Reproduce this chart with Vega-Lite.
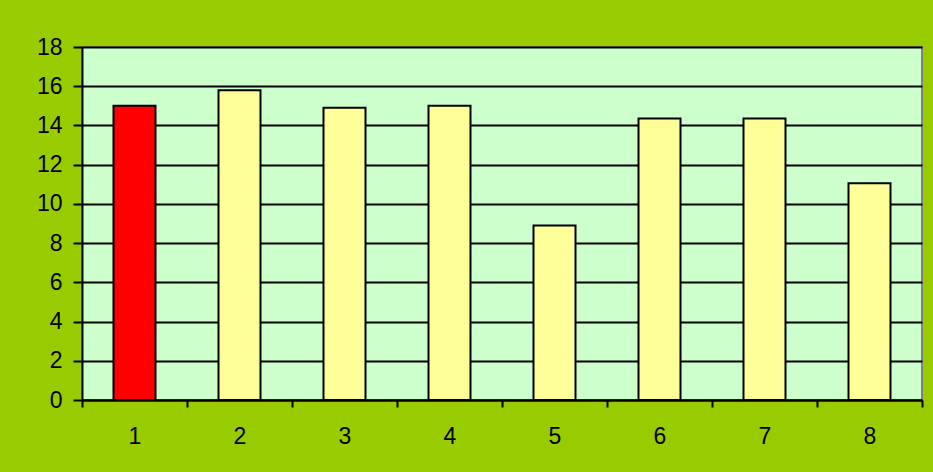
{
  "$schema": "https://vega.github.io/schema/vega-lite/v6.json",
  "autosize": {"type": "none"},
  "width": 840,
  "height": 353,
  "padding": {"left": 82, "top": 47, "right": 11, "bottom": 72},
  "background": "#99CC00",
  "config": {
    "font": "Liberation Sans",
    "view": {"fill": "#CCFFCC", "stroke": "#808080", "strokeWidth": 2},
    "axis": {"labelFontSize": 23, "labelColor": "#000000"}
  },
  "data": {
    "values": [
      {"cat": "1", "value": 15.0},
      {"cat": "2", "value": 15.8},
      {"cat": "3", "value": 14.9},
      {"cat": "4", "value": 15.0},
      {"cat": "5", "value": 8.9},
      {"cat": "6", "value": 14.35},
      {"cat": "7", "value": 14.35},
      {"cat": "8", "value": 11.05}
    ]
  },
  "mark": {"type": "bar", "stroke": "#000000", "strokeWidth": 2, "width": {"band": 0.4}},
  "encoding": {
    "x": {
      "field": "cat",
      "type": "ordinal",
      "title": null,
      "scale": {"paddingInner": 0, "paddingOuter": 0},
      "axis": {
        "labelAngle": 0,
        "tickBand": "extent",
        "tickSize": 7,
        "tickWidth": 2,
        "tickColor": "#000000",
        "domainColor": "#000000",
        "domainWidth": 2,
        "labelFontSize": 23,
        "labelColor": "#000000",
        "labelPadding": 18
      }
    },
    "y": {
      "field": "value",
      "type": "quantitative",
      "title": null,
      "scale": {"domain": [0, 18], "nice": false},
      "axis": {
        "values": [0, 2, 4, 6, 8, 10, 12, 14, 16, 18],
        "grid": true,
        "gridColor": "#000000",
        "gridWidth": 2,
        "gridOpacity": 1,
        "tickSize": 9,
        "tickWidth": 2,
        "tickColor": "#000000",
        "domainColor": "#000000",
        "domainWidth": 2,
        "labelFontSize": 23,
        "labelColor": "#000000",
        "labelPadding": 11
      }
    },
    "color": {
      "condition": {"test": "datum.cat == '1'", "value": "#FF0000"},
      "value": "#FFFF99"
    }
  }
}
